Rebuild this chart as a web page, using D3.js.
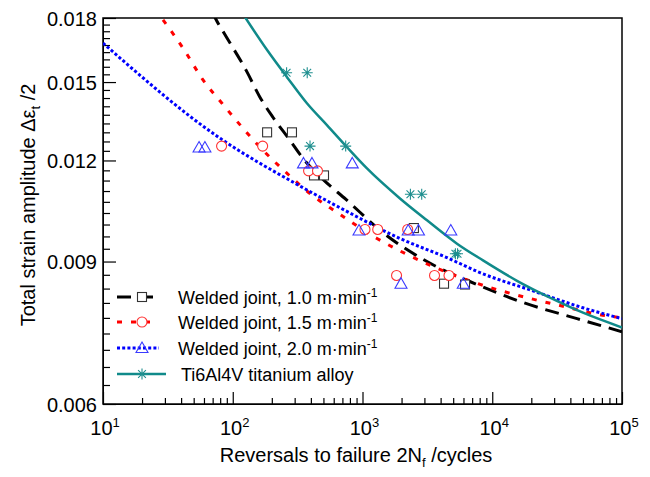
<!DOCTYPE html>
<html>
<head>
<meta charset="utf-8">
<script src="https://cdnjs.cloudflare.com/ajax/libs/d3/7.8.5/d3.min.js"></script>
<style>
  body { margin: 0; background: #fff; }
  text { font-family: "Liberation Sans", Arial, sans-serif; fill: #000; }
</style>
</head>
<body>
<script>
// Strain-life plot of welded joints vs base metal

// tick values
var xTicks = [10, 100, 1000, 10000, 100000];
var xExp = ["1", "2", "3", "4", "5"];
var yTicks = [0.006, 0.009, 0.012, 0.015, 0.018];

// legend entries
var seriesNames = ["Welded joint, 1.0 m\u00b7min", "Welded joint, 1.5 m\u00b7min",
  "Welded joint, 2.0 m\u00b7min", "Ti6Al4V titanium alloy"];

// test points [reversals, strain amplitude]
var pts10 = [[184, 0.0130], [286, 0.0130], [423, 0.0115], [505, 0.0115],
  [2490, 0.0099], [4250, 0.00845], [6170, 0.00843]];
var pts15 = [[82, 0.0125], [170, 0.0125], [384, 0.01165], [450, 0.01165],
  [1045, 0.00986], [1310, 0.00986], [2230, 0.00986], [1830, 0.00865],
  [3590, 0.00865], [4640, 0.00865]];
var pts20 = [[55, 0.01245], [61, 0.01245], [351, 0.0119], [408, 0.0119], [834, 0.0119],
  [940, 0.00983], [2250, 0.00983], [2700, 0.00983], [4790, 0.00983],
  [1980, 0.00845], [5980, 0.00845]];
var ptsTi = [[260, 0.0154], [375, 0.0154], [394, 0.0125], [742, 0.0125],
  [2340, 0.0109], [2860, 0.0109], [5200, 0.0092], [5400, 0.0092]];

// fitted curves
var fit10 = [[70, 0.0183], [74, 0.01795], [83, 0.01739], [129, 0.01543], [162, 0.01437],
  [204, 0.01357], [276, 0.01271], [348, 0.01207], [496, 0.01137], [746, 0.01074],
  [1439, 0.00977], [3141, 0.00900], [7628, 0.00843], [17260, 0.00801],
  [44980, 0.00765], [100000, 0.00737]];
var fit15 = [[29, 0.0179], [41.4, 0.01652], [59, 0.01509], [82.6, 0.01412], [120, 0.01315],
  [168, 0.01239], [262, 0.01157], [394, 0.01092], [636, 0.01035], [1294, 0.00961],
  [2126, 0.00921], [3622, 0.00885], [7767, 0.00845], [18530, 0.00812],
  [33270, 0.00794], [76600, 0.00771], [100000, 0.00767]];
var fit20 = [[10, 0.01676], [80, 0.01278], [313, 0.01121], [733, 0.01041], [1945, 0.00961],
  [4480, 0.00910], [8050, 0.00872], [20600, 0.00828], [50000, 0.00789], [100000, 0.00765]];
var fitTi = [[120, 0.0182], [184, 0.01643], [262, 0.01521], [373, 0.01412], [532, 0.01327],
  [760, 0.01246], [1083, 0.01173], [1945, 0.01077], [3141, 0.01012], [5350, 0.00947],
  [8486, 0.00903], [15520, 0.00852], [27870, 0.00812], [50000, 0.00778],
  [100000, 0.00746]];

var svgWidth = 650;
var svgHeight = 477;
var margin = { top: 18, right: 28, bottom: 73, left: 103 };
var chartWidth = svgWidth - margin.left - margin.right;
var chartHeight = svgHeight - margin.top - margin.bottom;

var svg = d3.select("body")
  .append("svg")
  .attr("width", svgWidth)
  .attr("height", svgHeight);

var chartGroup = svg.append("g")
  .attr("transform", `translate(${margin.left}, ${margin.top})`);

var xScale = d3.scaleLog().domain([10, 100000]).range([0, chartWidth]);
var yScale = d3.scaleLog().domain([0.006, 0.018]).range([chartHeight, 0]);

svg.append("clipPath").attr("id", "clip")
  .append("rect").attr("width", chartWidth).attr("height", chartHeight);

// minor ticks
var xMinor = [];
for (var d = 10; d < 100000; d *= 10) {
  for (var k = 2; k <= 9; k++) xMinor.push(d * k);
}
var yMinor = [];
for (var i = 0; i <= 36; i++) {
  var v = 0.006 + i * 0.012 / 36;
  if (i % 9 != 0) yMinor.push(v);
}

chartGroup.append("g")
  .attr("transform", "translate(0," + chartHeight + ")")
  .call(d3.axisBottom(xScale).tickValues(xMinor).tickSize(-6).tickFormat(""))
  .call(g => g.select(".domain").remove());
chartGroup.append("g")
  .call(d3.axisLeft(yScale).tickValues(yMinor).tickSize(-7).tickFormat(""))
  .call(g => g.select(".domain").remove());

var bottomAxis = chartGroup.append("g")
  .attr("transform", "translate(0," + chartHeight + ")")
  .call(d3.axisBottom(xScale).tickValues(xTicks).tickSize(-12).tickFormat("").tickSizeOuter(0));
var leftAxis = chartGroup.append("g")
  .call(d3.axisLeft(yScale).tickValues(yTicks).tickSize(-13).tickPadding(6)
    .tickFormat(d3.format(".3f")).tickSizeOuter(0));

leftAxis.selectAll("text").style("font-size", "20px").attr("dy", "0.36em");
svg.selectAll(".tick line").attr("stroke", "#000").attr("stroke-width", 1.2);

// x tick labels with superscripts
xTicks.forEach(function (t, i) {
  var lbl = chartGroup.append("text")
    .attr("x", xScale(t) + 2)
    .attr("y", chartHeight + 31)
    .attr("text-anchor", "middle")
    .style("font-size", "20px");
  lbl.append("tspan").text("10");
  lbl.append("tspan").attr("dy", -8).style("font-size", "13px").text(xExp[i]);
});

// frame
chartGroup.append("rect")
  .attr("width", chartWidth)
  .attr("height", chartHeight)
  .attr("fill", "none")
  .attr("stroke", "#000")
  .attr("stroke-width", 1.5);

var styles = [
  { color: "#000000", dash: "14,8", width: 3, marker: "square", mcolor: "#333333", pts: pts10, fit: fit10 },
  { color: "#ff0000", dash: "5,9", width: 3, marker: "circle", mcolor: "#ff3333", pts: pts15, fit: fit15 },
  { color: "#0000ff", dash: "3,2.2", width: 3, marker: "triangle", mcolor: "#3a3aff", pts: pts20, fit: fit20 },
  { color: "#108a8a", dash: null, width: 2.5, marker: "star", mcolor: "#1f8f8f", pts: ptsTi, fit: fitTi }
];

function drawMarker(g, type, cx, cy, color) {
  if (type == "square") {
    g.append("rect").attr("x", cx - 4.5).attr("y", cy - 4.5).attr("width", 9).attr("height", 9)
      .attr("fill", "#fff").attr("stroke", color).attr("stroke-width", 1.1);
  } else if (type == "circle") {
    g.append("circle").attr("cx", cx).attr("cy", cy).attr("r", 5)
      .attr("fill", "#fff").attr("stroke", color).attr("stroke-width", 1.1);
  } else if (type == "triangle") {
    g.append("path").attr("d", `M${cx},${cy - 6}L${cx + 6},${cy + 4.5}L${cx - 6},${cy + 4.5}Z`)
      .attr("fill", "none").attr("stroke", color).attr("stroke-width", 1.1);
  } else {
    var r = 5.5, q = r * 0.7071;
    g.append("path")
      .attr("d", `M${cx - r},${cy}L${cx + r},${cy}M${cx},${cy - r}L${cx},${cy + r}` +
        `M${cx - q},${cy - q}L${cx + q},${cy + q}M${cx - q},${cy + q}L${cx + q},${cy - q}`)
      .attr("stroke", color).attr("stroke-width", 1.1);
  }
}

var drawLine = d3.line()
  .x(d => xScale(d[0]))
  .y(d => yScale(d[1]))
  .curve(d3.curveMonotoneX);

var plotArea = chartGroup.append("g").attr("clip-path", "url(#clip)");

styles.forEach(function (s) {
  plotArea.append("path")
    .attr("d", drawLine(s.fit))
    .attr("fill", "none")
    .attr("stroke", s.color)
    .attr("stroke-width", s.width)
    .attr("stroke-dasharray", s.dash);
});

// markers (triangles drawn with no fill so overlaps show)
styles.forEach(function (s) {
  s.pts.forEach(function (p) {
    drawMarker(plotArea, s.marker, xScale(p[0]), yScale(p[1]), s.mcolor);
  });
});

// legend
var legendY = [297, 322, 348, 374];
styles.forEach(function (s, i) {
  var ly = legendY[i];
  svg.append("line")
    .attr("x1", 117).attr("x2", i == 3 ? 166 : 159)
    .attr("y1", ly).attr("y2", ly)
    .attr("stroke", s.color)
    .attr("stroke-width", s.width)
    .attr("stroke-dasharray", s.dash);
  drawMarker(svg, s.marker, 142, ly, s.mcolor);
  var t = svg.append("text")
    .attr("x", i == 3 ? 181 : 178)
    .attr("y", ly + 7)
    .style("font-size", "18px");
  t.append("tspan").text(seriesNames[i]);
  if (i < 3) t.append("tspan").attr("dy", -7).style("font-size", "12px").text("-1");
});

// axis titles
var xt = svg.append("text")
  .attr("x", 356)
  .attr("y", 462)
  .attr("text-anchor", "middle")
  .style("font-size", "20px");
xt.append("tspan").text("Reversals to failure 2N");
xt.append("tspan").attr("dy", 5).style("font-size", "13px").text("f");
xt.append("tspan").attr("dy", -5).text(" /cycles");

var yt = svg.append("text")
  .attr("transform", "translate(35,205) rotate(-90)")
  .attr("text-anchor", "middle")
  .style("font-size", "20px");
yt.append("tspan").text("Total strain amplitude \u0394\u03b5");
yt.append("tspan").attr("dy", 5).style("font-size", "13px").text("t");
yt.append("tspan").attr("dy", -5).text(" /2");
</script>
</body>
</html>
